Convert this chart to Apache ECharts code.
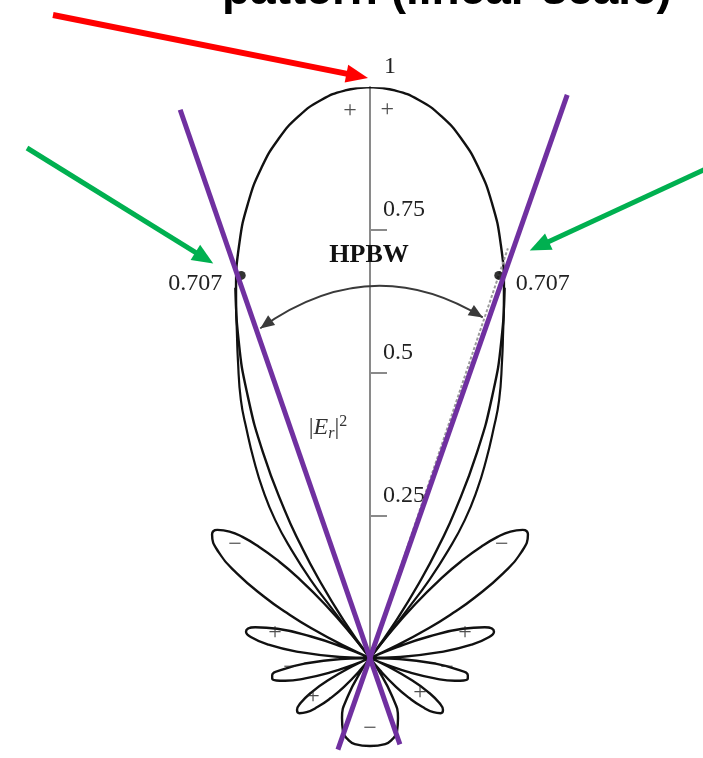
<!DOCTYPE html>
<html>
<head>
<meta charset="utf-8">
<script src="https://cdn.jsdelivr.net/npm/echarts@6/dist/echarts.min.js"></script>
<style>
html, body { margin: 0; padding: 0; background: #fff; }
#chart { width: 703px; height: 758px; }
</style>
</head>
<body>
<div id="chart"></div>
<script>
// normalized field pattern, angle measured from the vertical axis (deg); sign = lobe phase
const patternAngle = [0, 2.5, 5, 7.5, 10, 12.5, 15, 17.5, 20, 22.5, 25, 27.5, 30, 31.5, 33, 35, 36.9,
  38, 40, 42, 43.5, 45, 46.5, 48, 50, 52, 55, 57.5, 60, 61.5, 63, 65, 66.4,
  68, 70, 72.5, 75, 78, 80, 82.5, 85, 88, 90,
  92, 95, 97.5, 100, 102, 105, 107.5, 110, 112, 113.6,
  115, 118, 120.5, 123, 125.5, 128, 130.5, 133, 135.5, 138, 141, 143.1,
  145, 150, 155, 160, 165, 170, 180];
const patternValue = [1, 0.995, 0.981, 0.957, 0.923, 0.879, 0.825, 0.761, 0.686, 0.601, 0.507, 0.406, 0.299, 0.233, 0.167, 0.080, 0,
  -0.046, -0.123, -0.193, -0.238, -0.276, -0.308, -0.331, -0.349, -0.351, -0.324, -0.277, -0.212, -0.166, -0.116, -0.048, 0,
  0.051, 0.110, 0.170, 0.208, 0.222, 0.212, 0.180, 0.129, 0.053, 0,
  -0.051, -0.117, -0.155, -0.174, -0.175, -0.154, -0.119, -0.074, -0.033, 0,
  0.029, 0.084, 0.120, 0.145, 0.157, 0.157, 0.146, 0.126, 0.099, 0.068, 0.028, 0,
  -0.023, -0.078, -0.116, -0.138, -0.148, -0.153, -0.154];

// second trace just outside the lower main lobe edge
const outerAngle = [20, 22.1, 23.9, 26.6, 28.4, 30.4, 32.5, 34.5, 36.0, 37.2, 37.6, 37.9, 38];
const outerValue = [0.69, 0.62, 0.571, 0.505, 0.454, 0.402, 0.349, 0.293, 0.234, 0.172, 0.106, 0.04, 0];

// half power points
const halfPowerAngle = 18.6;
const halfPowerLevel = 0.707;

// purple guide lines: angle left of / right of the vertical, reach up, reach below origin
const guideAngle = [-19.1, 19.3];
const guideReach = [[1.016, 0.16], [1.045, 0.17]];

const radiusTicks = [0.25, 0.5, 0.75];

// lobe signs
const signText = ['+', '+', '−', '−', '+', '+', '−', '−', '+', '+', '−'];
const signAngle = [357.9, 1.8, 309.9, 49.4, 284.7, 75.3, 262.9, 97.4, 235.6, 125, 180];
const signRadius = [0.96, 0.96, 0.308, 0.304, 0.172, 0.172, 0.141, 0.136, 0.121, 0.107, 0.123];

const serif = "'Liberation Serif', 'DejaVu Serif', serif";

// right half then mirrored left half -> one closed trace
const patternData = [];
patternAngle.forEach((a, i) => patternData.push([Math.abs(patternValue[i]), a]));
for (let i = patternAngle.length - 1; i >= 0; i--) {
  patternData.push([Math.abs(patternValue[i]), 360 - patternAngle[i]]);
}

const outerRight = outerAngle.map((a, i) => [outerValue[i], a]);
const outerLeft = outerAngle.map((a, i) => [outerValue[i], 360 - a]);

const chart = echarts.init(document.getElementById('chart'), null, { renderer: 'canvas' });

const lineSeries = (data, color, width, extra) => Object.assign({
  type: 'line',
  coordinateSystem: 'polar',
  data: data,
  showSymbol: false,
  symbol: 'none',
  silent: true,
  animation: false,
  lineStyle: { color: color, width: width }
}, extra || {});

const option = {
  backgroundColor: '#fff',
  animation: false,
  polar: { center: [370, 658], radius: 571 },
  angleAxis: {
    type: 'value', min: 0, max: 360, startAngle: 90, clockwise: true, show: false
  },
  radiusAxis: {
    type: 'value', min: 0, max: 1, interval: 0.25,
    axisLine: { lineStyle: { color: '#8a8a8a', width: 2 } },
    // negative length / margin put ticks and labels on the right of the vertical axis
    axisTick: { customValues: radiusTicks, length: -17, lineStyle: { color: '#8a8a8a', width: 2 } },
    axisLabel: {
      customValues: radiusTicks, margin: -13,
      align: 'left', verticalAlign: 'bottom', padding: [0, 0, 8, 0],
      fontFamily: serif, fontSize: 24, color: '#222',
      formatter: v => String(v)
    },
    splitLine: { show: false },
    z: 1
  },
  series: [
    lineSeries(patternData, '#111', 2.4, { smooth: 0.5, z: 3 }),
    lineSeries(outerRight, '#111', 2.2, { smooth: 0.5, z: 3 }),
    lineSeries(outerLeft, '#111', 2.2, { smooth: 0.5, z: 3 }),
    // dashed HPBW ray under the right purple line
    lineSeries([[0, 0], [halfPowerLevel + 0.05, halfPowerAngle]], '#999', 2, { lineStyle: { color: '#9a9a9a', width: 2, type: [3, 2] }, z: 4 }),
    {
      type: 'scatter', coordinateSystem: 'polar', silent: true, animation: false, z: 7,
      symbolSize: 9, itemStyle: { color: '#000' },
      data: [[halfPowerLevel, halfPowerAngle], [halfPowerLevel, 360 - halfPowerAngle]]
    },
    {
      type: 'scatter', coordinateSystem: 'polar', silent: true, animation: false, z: 5,
      symbolSize: 0,
      label: { show: true, position: 'inside', formatter: '{b}', fontFamily: serif, fontSize: 24, color: '#222' },
      data: signText.map((t, i) => ({ name: t, value: [signRadius[i], signAngle[i]] }))
    }
  ]
};
chart.setOption(option);

const px = (r, a) => chart.convertToPixel({ seriesIndex: 0 }, [r, a]);

function arrow(x1, y1, x2, y2, color, width, headLen, headHalf) {
  const dx = x2 - x1, dy = y2 - y1, len = Math.hypot(dx, dy);
  const ux = dx / len, uy = dy / len;
  const bx = x2 - ux * headLen, by = y2 - uy * headLen;
  return [
    { type: 'line', shape: { x1: x1, y1: y1, x2: bx + ux, y2: by + uy }, style: { stroke: color, lineWidth: width }, z: 20 },
    { type: 'polygon', shape: { points: [[x2, y2], [bx - uy * headHalf, by + ux * headHalf], [bx + uy * headHalf, by - ux * headHalf]] }, style: { fill: color }, z: 20 }
  ];
}

function arrowHead(tipX, tipY, fromX, fromY, color, headLen, headHalf) {
  const dx = tipX - fromX, dy = tipY - fromY, len = Math.hypot(dx, dy);
  const ux = dx / len, uy = dy / len;
  const bx = tipX - ux * headLen, by = tipY - uy * headLen;
  return { type: 'polygon', shape: { points: [[tipX, tipY], [bx - uy * headHalf, by + ux * headHalf], [bx + uy * headHalf, by - ux * headHalf]] }, style: { fill: color }, z: 10 };
}

const origin = px(0, 0);
const peakPt = px(1, 0);
const unit = origin[1] - peakPt[1]; // pixels per unit radius
const dotR = px(halfPowerLevel, halfPowerAngle);
const dotL = px(halfPowerLevel, 360 - halfPowerAngle);

// purple guide lines through the origin (they run past r = 1, so drawn from the polar scale)
const guideLines = guideAngle.map((a, i) => {
  const t = a * Math.PI / 180;
  const up = guideReach[i][0] * unit, down = guideReach[i][1] * unit;
  return {
    type: 'line', z: 15,
    shape: {
      x1: origin[0] + Math.sin(t) * up, y1: origin[1] - Math.cos(t) * up,
      x2: origin[0] - Math.sin(t) * down, y2: origin[1] + Math.cos(t) * down
    },
    style: { stroke: '#7030A0', lineWidth: 5 }
  };
});

// HPBW double arrow
const arcL = [dotL[0] + 19, dotL[1] + 53];
const arcR = [dotR[0] - 16, dotR[1] + 42];
const arcC = [371, 249];
const arcColor = '#3a3a3a';

const graphics = [
  { type: 'text', left: 222, top: -32, style: { text: 'pattern (linear scale)', font: "bold 46px 'Liberation Sans', Arial, sans-serif", fill: '#000' }, z: 30 },
  { type: 'text', x: peakPt[0] + 20, y: peakPt[1] - 20, style: { text: '1', font: '24px ' + serif, fill: '#222', align: 'center', verticalAlign: 'middle' }, z: 10 },
  { type: 'text', x: dotL[0] - 46, y: dotL[1] + 8, style: { text: '0.707', font: '24px ' + serif, fill: '#222', align: 'center', verticalAlign: 'middle' }, z: 10 },
  { type: 'text', x: dotR[0] + 44, y: dotR[1] + 8, style: { text: '0.707', font: '24px ' + serif, fill: '#222', align: 'center', verticalAlign: 'middle' }, z: 10 },
  { type: 'text', x: 369, y: 255, style: { text: 'HPBW', font: 'bold 26px ' + serif, fill: '#111', align: 'center', verticalAlign: 'middle' }, z: 10 },
  {
    type: 'text', x: 328, y: 428,
    style: {
      text: '{n||}{i|E}{s|r}{n||}{p|2}', align: 'center', verticalAlign: 'middle',
      rich: {
        n: { font: '24px ' + serif, fill: '#333' },
        i: { font: 'italic 24px ' + serif, fill: '#333' },
        s: { font: 'italic 16px ' + serif, fill: '#333', padding: [12, 0, 0, 0] },
        p: { font: '16px ' + serif, fill: '#333', padding: [0, 0, 12, 0] }
      }
    }, z: 10
  },
  {
    type: 'bezierCurve',
    shape: { x1: arcL[0], y1: arcL[1], x2: arcR[0], y2: arcR[1], cpx1: arcC[0], cpy1: arcC[1] },
    style: { stroke: arcColor, lineWidth: 1.8, fill: null }, z: 10
  },
  arrowHead(arcL[0], arcL[1], arcC[0], arcC[1], arcColor, 14, 6),
  arrowHead(arcR[0], arcR[1], arcC[0], arcC[1], arcColor, 14, 6)
]
  .concat(guideLines)
  .concat(arrow(53, 15, peakPt[0] - 2, peakPt[1] - 9, '#FF0000', 6, 22, 9))
  .concat(arrow(27, 148, dotL[0] - 28, dotL[1] - 12, '#00B050', 5, 21, 9))
  .concat(arrow(712, 166, dotR[0] + 31, dotR[1] - 25, '#00B050', 5, 21, 9));

chart.setOption({ graphic: graphics });
</script>
</body>
</html>
